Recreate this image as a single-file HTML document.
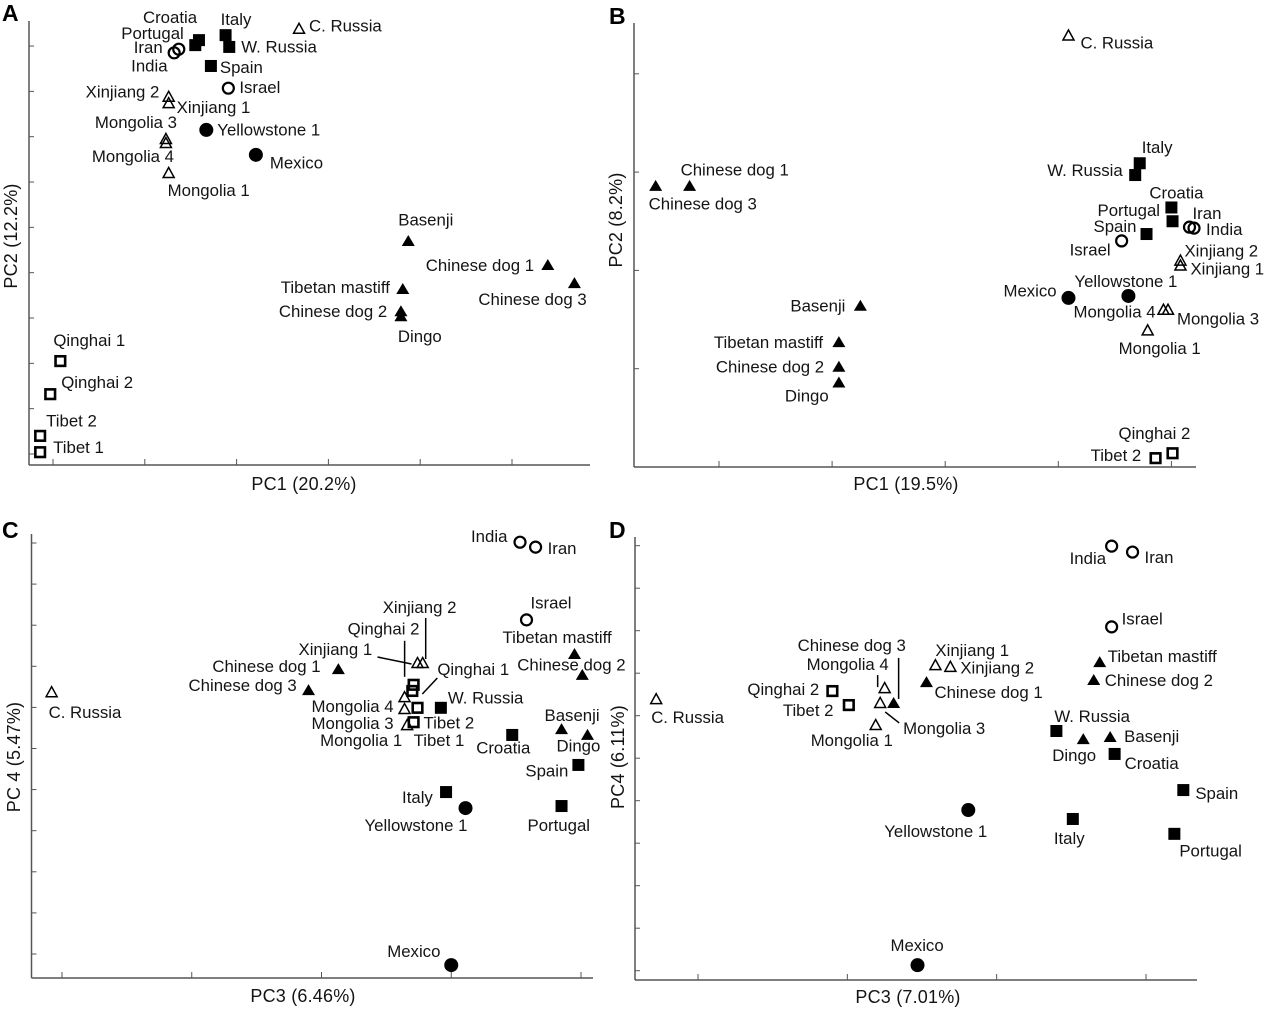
<!DOCTYPE html>
<html lang="en">
<head>
<meta charset="utf-8">
<title>PCA panels</title>
<style>
html,body{margin:0;padding:0;background:#fff;}
svg{display:block;}
text{font-family:"Liberation Sans",Arial,sans-serif;fill:#141414;}
.lbl{font-size:16.8px;letter-spacing:0;}
.ttl{font-size:18px;letter-spacing:.2px;}
.let{font-size:23px;font-weight:bold;fill:#000;}
</style>
</head>
<body>
<svg id="chart" width="1280" height="1009" viewBox="0 0 1280 1009" xmlns="http://www.w3.org/2000/svg">
  <rect width="1280" height="1009" fill="#fff"/>
  <text class="let" x="2" y="21">A</text>
  <text class="let" x="609" y="24">B</text>
  <text class="let" x="2" y="538">C</text>
  <text class="let" x="609" y="538">D</text>
  <text class="ttl" x="304" y="490" text-anchor="middle">PC1 (20.2%)</text>
  <text class="ttl" x="906" y="490" text-anchor="middle">PC1 (19.5%)</text>
  <text class="ttl" x="303" y="1002" text-anchor="middle">PC3 (6.46%)</text>
  <text class="ttl" x="908" y="1003" text-anchor="middle">PC3 (7.01%)</text>
  <text class="ttl" text-anchor="middle" transform="translate(17 236) rotate(-90)">PC2 (12.2%)</text>
  <text class="ttl" text-anchor="middle" transform="translate(622 220) rotate(-90)">PC2 (8.2%)</text>
  <text class="ttl" text-anchor="middle" transform="translate(20 757) rotate(-90)">PC 4 (5.47%)</text>
  <text class="ttl" text-anchor="middle" transform="translate(624 757) rotate(-90)">PC4 (6.11%)</text>
</svg>
<script>
// ---- group membership of every sample ----
const filledSquares = ['Croatia','Portugal','Italy','W. Russia','Spain'];
const openSquares = ['Qinghai 1','Qinghai 2','Tibet 1','Tibet 2'];
const openCircles = ['Iran','India','Israel'];
const filledCircles = ['Yellowstone 1','Mexico'];
const openTriangles = ['C. Russia','Xinjiang 1','Xinjiang 2','Mongolia 1','Mongolia 3','Mongolia 4'];
const filledTriangles = ['Basenji','Chinese dog 1','Chinese dog 2','Chinese dog 3','Tibetan mastiff','Dingo'];

// ---- Panel A: PC1 vs PC2 (scores in axis tick units) ----
const samplesA = ['Croatia','Portugal','Italy','W. Russia','Spain','Iran','India','Israel','C. Russia','Xinjiang 2','Xinjiang 1','Mongolia 3','Mongolia 4','Mongolia 1','Yellowstone 1','Mexico','Basenji','Chinese dog 1','Chinese dog 3','Tibetan mastiff','Chinese dog 2','Dingo','Qinghai 1','Qinghai 2','Tibet 2','Tibet 1'];
const xValuesA = [1.59,1.55,1.88,1.92,1.72,1.37,1.32,1.91,2.68,1.26,1.26,1.23,1.23,1.26,1.67,2.21,3.87,5.39,5.68,3.81,3.79,3.79,0.08,-0.03,-0.14,-0.14];
const yValuesA = [9.13,9.02,9.24,8.98,8.56,8.93,8.85,8.07,9.38,7.88,7.74,6.95,6.86,6.20,7.15,6.60,4.70,4.17,3.77,3.64,3.15,3.04,2.05,1.32,0.40,0.04];
const xTicksA = [0,1,2,3,4,5];
const yTicksA = [0,1,2,3,4,5,6,7,8,9];

// ---- Panel B: PC1 vs PC2 ----
const samplesB = ['C. Russia','Italy','W. Russia','Croatia','Portugal','Spain','Iran','India','Israel','Xinjiang 2','Xinjiang 1','Yellowstone 1','Mexico','Mongolia 4','Mongolia 3','Mongolia 1','Chinese dog 1','Chinese dog 3','Basenji','Tibetan mastiff','Chinese dog 2','Dingo','Qinghai 2','Tibet 2'];
const xValuesB = [3.09,3.72,3.68,4.00,4.01,3.78,4.16,4.20,3.56,4.08,4.08,3.62,3.09,3.93,3.97,3.79,-0.26,-0.56,1.25,1.06,1.06,1.06,4.01,3.86];
const yValuesB = [4.39,3.09,2.97,2.64,2.50,2.37,2.44,2.43,2.30,2.10,2.05,1.74,1.72,1.60,1.60,1.39,2.86,2.86,1.64,1.27,1.02,0.86,0.14,0.09];
const xTicksB = [0,1,2,3,4];
const yTicksB = [0,1,2,3,4];

// ---- Panel C: PC3 vs PC4 ----
const samplesC = ['India','Iran','Israel','Tibetan mastiff','Chinese dog 2','Basenji','Dingo','Spain','Croatia','W. Russia','Italy','Portugal','Yellowstone 1','Mexico','C. Russia','Xinjiang 1','Xinjiang 2','Qinghai 2','Qinghai 1','Chinese dog 1','Chinese dog 3','Tibet 2','Tibet 1','Mongolia 4','Mongolia 3','Mongolia 1'];
const xValuesC = [3.53,3.65,3.58,3.95,4.01,3.85,4.05,3.98,3.47,2.92,2.96,3.85,3.11,3.00,-0.08,2.74,2.78,2.71,2.70,2.13,1.90,2.74,2.71,2.64,2.64,2.66];
const yValuesC = [10.02,9.90,8.13,7.30,6.79,5.47,5.33,4.60,5.33,5.99,3.94,3.60,3.55,-0.27,6.37,7.08,7.08,6.55,6.40,6.93,6.42,5.99,5.64,6.25,5.96,5.57];
const xTicksC = [0,1,2,3,4];
const yTicksC = [0,1,2,3,4,5,6,7,8,9,10];

// ---- Panel D: PC3 vs PC4 ----
const samplesD = ['Chinese dog 3','Mongolia 4','Mongolia 3','Mongolia 1','Qinghai 2','Tibet 2','Xinjiang 1','Xinjiang 2','Chinese dog 1','India','Iran','Israel','Tibetan mastiff','Chinese dog 2','W. Russia','Basenji','Dingo','Croatia','Spain','Portugal','Italy','Yellowstone 1','Mexico','C. Russia'];
const xValuesD = [1.31,1.25,1.22,1.19,0.90,1.01,1.59,1.69,1.53,2.77,2.91,2.77,2.69,2.65,2.40,2.76,2.58,2.79,3.25,3.19,2.51,1.81,1.47,-0.28];
const yValuesD = [6.30,6.65,6.30,5.78,6.58,6.25,7.19,7.15,6.79,9.99,9.85,8.09,7.26,6.84,5.64,5.50,5.45,5.10,4.25,3.22,3.57,3.78,0.13,6.39];
const xTicksD = [0,1,2,3];
const yTicksD = [0,1,2,3,4,5,6,7,8,9,10];

// ---- Layout only (not data): label offsets from each mark, axis geometry ----
const labelOffsetsA = [[-56,-23],[-74,-12],[-5,-16],[12,0],[9,1],[-45,-2],[-43,13],[11,-1],[10,-3],[-83,-5],[8,4],[-71,-17],[-74,13],[-1,17],[11,0],[14,8],[-10,-21],[-122,0],[-96,16],[-122,-2],[-122,0],[-3,20],[-7,-21],[11,-12],[6,-15],[13,-5]];
const labelOffsetsB = [[12,7],[2,-16],[-88,-5],[-22,-15],[-75,-11],[-53,-8],[3,-14],[12,1],[-52,9],[4,-10],[10,3],[-54,-15],[-65,-7],[-90,2],[9,9],[-29,18],[-9,-16],[-7,18],[-70,0],[-125,0],[-123,0],[-54,13],[-54,-20],[-65,-3]];
const labelOffsetsC = [[-49,-6],[12,1],[4,-17],[-72,-17],[-65,-10],[-17,-14],[-31,11],[-53,6],[-36,13],[7,-10],[-44,5],[-34,19],[-101,17],[-64,-14],[-3,20],[-119,-14],[-40,-56],[-66,-56],[25,-22],[-126,-3],[-120,-5],[6,15],[0,18],[-93,9],[-93,14],[-87,15]];
const labelOffsetsD = [[-96,-58],[-78,-24],[23,25],[-65,15],[-85,-2],[-66,5],[0,-15],[10,1],[8,10],[-42,12],[12,5],[10,-8],[8,-6],[11,0],[-2,-15],[14,-1],[-31,16],[10,9],[12,3],[5,17],[-19,19],[-84,21],[-27,-20],[-5,18]];
const leadersC = [['Xinjiang 2',3,-45,3,-4],['Qinghai 2',-9,-44,-9,-8],['Xinjiang 1',-40,-6,-6,1],['Qinghai 1',25,-13,10,3]];
const leadersD = [['Chinese dog 3',5,-45,5,-4],['Mongolia 4',-7,-13,-7,-1],['Mongolia 3',5,9,19,20]];

const SVG_NS = 'http://www.w3.org/2000/svg';
const root = document.getElementById('chart');

function make(parent, tag, attrs) {
  const el = document.createElementNS(SVG_NS, tag);
  for (const k in attrs) el.setAttribute(k, attrs[k]);
  parent.appendChild(el);
  return el;
}
function slug(s) {
  return s.toLowerCase().replace(/[^a-z0-9]+/g, '-');
}
function shape(parent, name, cx, cy) {
  let el;
  if (filledSquares.includes(name)) {
    el = make(parent, 'rect', {x: cx - 6, y: cy - 6, width: 12, height: 12, fill: '#000'});
  } else if (openSquares.includes(name)) {
    el = make(parent, 'rect', {x: cx - 4.8, y: cy - 4.8, width: 9.6, height: 9.6, fill: 'none', stroke: '#000', 'stroke-width': 2.6});
  } else if (openCircles.includes(name)) {
    el = make(parent, 'circle', {cx: cx, cy: cy, r: 5.5, fill: 'none', stroke: '#000', 'stroke-width': 2.2});
  } else if (filledCircles.includes(name)) {
    el = make(parent, 'circle', {cx: cx, cy: cy, r: 7, fill: '#000'});
  } else if (openTriangles.includes(name)) {
    el = make(parent, 'polygon', {points: (cx - 5.5) + ',' + (cy + 4.5) + ' ' + (cx + 5.5) + ',' + (cy + 4.5) + ' ' + cx + ',' + (cy - 5.5), fill: 'none', stroke: '#000', 'stroke-width': 1.5});
  } else {
    el = make(parent, 'polygon', {points: (cx - 6.5) + ',' + (cy + 5) + ' ' + (cx + 6.5) + ',' + (cy + 5) + ' ' + cx + ',' + (cy - 6), fill: '#000'});
  }
  return el;
}

function drawPanel(id, samples, xValues, yValues, xTicks, yTicks, offsets, leaders, frame) {
  const xScale = v => frame.x0 + v * frame.xStep;
  const yScale = v => frame.y0 - v * frame.yStep;
  const g = make(root, 'g', {});
  
  

  const xAxis = make(g, 'line', {x1: frame.left, x2: frame.right, y1: frame.bottom, y2: frame.bottom, stroke: '#555', 'stroke-width': 1.5});
  
  
  const yAxis = make(g, 'line', {x1: frame.left, x2: frame.left, y1: frame.top, y2: frame.bottom, stroke: '#555', 'stroke-width': 1.5});
  
  

  xTicks.forEach(t => {
    const tick = make(g, 'line', {x1: xScale(t), x2: xScale(t), y1: frame.bottom, y2: frame.bottom - 6, stroke: '#555', 'stroke-width': 1});
    
    
  });
  yTicks.forEach(t => {
    const tick = make(g, 'line', {x1: frame.left, x2: frame.left + 5, y1: yScale(t), y2: yScale(t), stroke: '#555', 'stroke-width': 1});
    
    
  });

  leaders.forEach(l => {
    const i = samples.indexOf(l[0]);
    const px = xScale(xValues[i]);
    const py = yScale(yValues[i]);
    const line = make(g, 'line', {x1: px + l[1], y1: py + l[2], x2: px + l[3], y2: py + l[4], stroke: '#000', 'stroke-width': 1.5});
    
    
  });

  samples.forEach((name, i) => {
    const px = xScale(xValues[i]);
    const py = yScale(yValues[i]);
    const mark = shape(g, name, px, py);
    
    
    const label = make(g, 'text', {class: 'lbl', x: px + offsets[i][0], y: py + offsets[i][1] + 5.8});
    label.textContent = name;
    
    
  });
}

drawPanel('a', samplesA, xValuesA, yValuesA, xTicksA, yTicksA, labelOffsetsA, [],
  {x0: 53, xStep: 91.8, y0: 454, yStep: 45.33, left: 29, right: 590, top: 21, bottom: 465});
drawPanel('b', samplesB, xValuesB, yValuesB, xTicksB, yTicksB, labelOffsetsB, [],
  {x0: 719, xStep: 113.1, y0: 467, yStep: 98.3, left: 634, right: 1196, top: 23, bottom: 467});
drawPanel('c', samplesC, xValuesC, yValuesC, xTicksC, yTicksC, labelOffsetsC, leadersC,
  {x0: 62, xStep: 129.75, y0: 954, yStep: 41.1, left: 31.5, right: 593, top: 534, bottom: 978});
drawPanel('d', samplesD, xValuesD, yValuesD, xTicksD, yTicksD, labelOffsetsD, leadersD,
  {x0: 698, xStep: 149.33, y0: 970.7, yStep: 42.5, left: 635, right: 1197, top: 537, bottom: 980});
</script>
</body>
</html>
